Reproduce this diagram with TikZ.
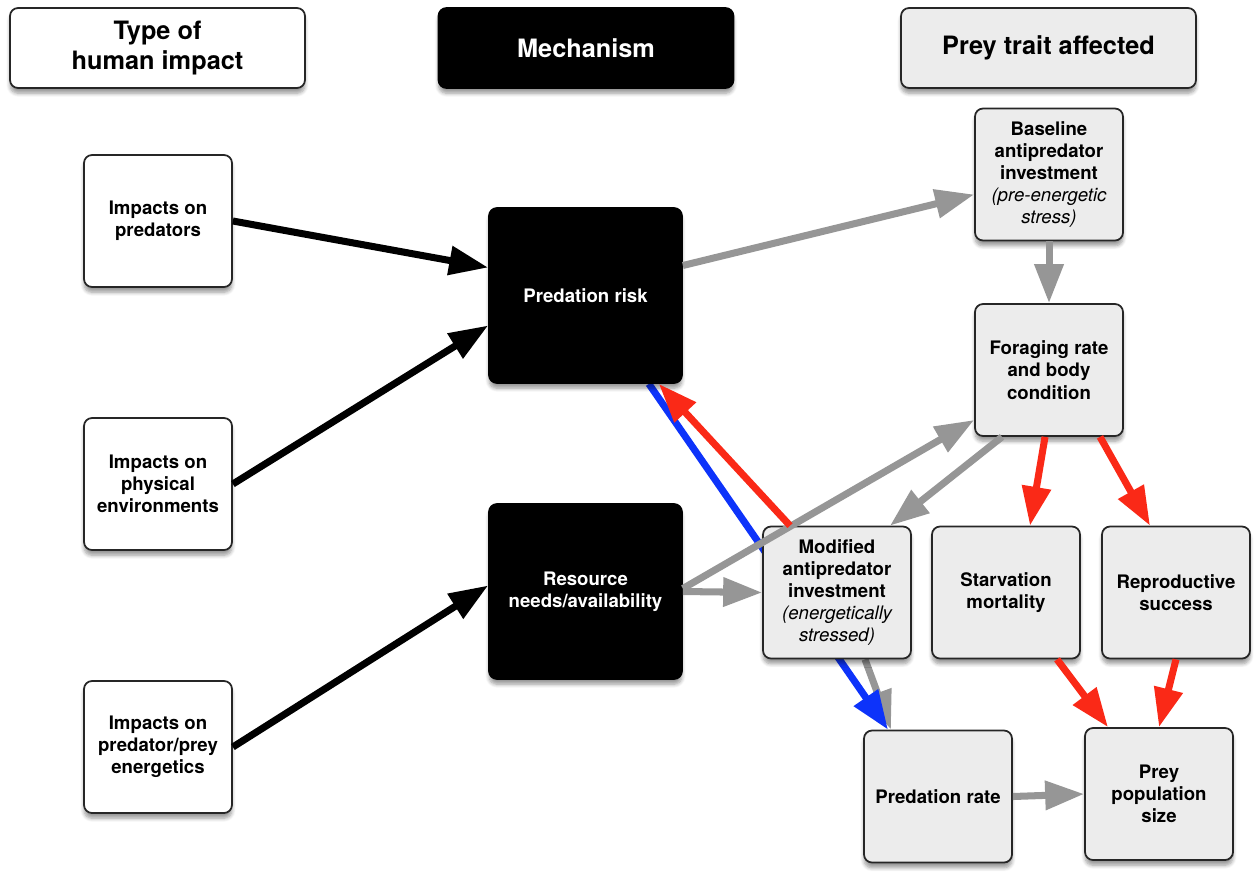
\documentclass[tikz,border=0pt]{standalone}
\usepackage{fontspec}
\setmainfont{TeX Gyre Heros}
\usetikzlibrary{arrows.meta,calc,shadows.blur,backgrounds}
\definecolor{BoxLine}{rgb}{0.15,0.15,0.15}
\definecolor{TraitClr}{rgb}{0.925,0.925,0.925}
\definecolor{GreyArr}{rgb}{0.59,0.59,0.59}
\definecolor{RedArr}{rgb}{0.98,0.16,0.09}
\definecolor{BlueArr}{rgb}{0.05,0.2,0.98}
\newcommand\SubNote[1]{{\mdseries\itshape #1}}

\begin{document}
\begin{tikzpicture}[x=0.02cm,y=-0.02cm,
  box/.style={draw=BoxLine,line width=1pt,rounded corners=0.16cm,align=center,
    minimum width=2.96cm,minimum height=2.64cm,inner sep=2pt,
    font=\fontsize{10.6}{12.6}\selectfont\bfseries,
    blur shadow={shadow xshift=0pt,shadow yshift=-3pt,shadow blur steps=6}},
  impact/.style={box,fill=white},
  trait/.style={box,fill=TraitClr},
  mech/.style={box,fill=black,draw=black,text=white,minimum width=3.86cm,minimum height=3.5cm},
  head/.style={box,minimum width=5.9cm,minimum height=1.6cm,font=\fontsize{14.4}{17.5}\selectfont\bfseries},
  arr/.style={line width=4pt,-{Triangle[length=0.78cm,width=0.56cm]}}]
\useasboundingbox (0,0) rectangle (1256,877);

% column headers
\node[head,fill=white] (hType) at (157.5,48) {Type of\\human impact};
\node[head,fill=black,draw=black,text=white] (hMech) at (586,48) {Mechanism};
\node[head,fill=TraitClr] (hTrait) at (1048.5,48) {Prey trait affected};

% boxes
\node[impact] (pred) at (158,221) {Impacts on\\predators};
\node[impact] (phys) at (158,484) {Impacts on\\physical\\environments};
\node[impact] (ener) at (158,747) {Impacts on\\predator/prey\\energetics};

\node[mech] (risk) at (585.5,295.5) {Predation risk};
\node[mech] (res) at (585.5,591.5) {Resource\\needs/availability};

\node[trait] (base) at (1049,174.5) {Baseline\\antipredator\\investment\\\SubNote{(pre-energetic}\\\SubNote{stress)}};
\node[trait] (forag) at (1049,370) {Foraging rate\\and body\\condition};
\node[trait] (mod) at (837,592.5) {Modified\\antipredator\\investment\\\SubNote{(energetically}\\\SubNote{stressed)}};
\node[trait] (starv) at (1006,592.5) {Starvation\\mortality};
\node[trait] (repro) at (1176,592.5) {Reproductive\\success};
\node[trait] (rate) at (938,796.5) {Predation rate};
\node[trait] (prey) at (1159,794) {Prey\\population\\size};

% links behind the modified box
\begin{scope}[on background layer]
\draw[arr,GreyArr] ($(mod.south)+(28,0)$) -- ($(rate.north)+(-47,0)$);
\draw[arr,BlueArr] ($(risk.south east)+(-34,0)$) -- ($(rate.north)+(-50,0)$);
\end{scope}

\draw[arr,black] (pred.east) -- ($(risk.west)+(0,-28)$);
\draw[arr,black] (phys.east) -- ($(risk.west)+(0,30)$);
\draw[arr,black] (ener.east) -- ($(res.west)+(0,-6)$);

\draw[arr,GreyArr] ($(risk.east)+(0,-30)$) -- ($(base.west)+(0,20)$);
\draw[arr,GreyArr] (base.south) -- (forag.north);
\draw[arr,GreyArr] ($(res.east)+(0,-3)$) -- ($(forag.west)+(0,50)$);
\draw[arr,GreyArr] (res.east) -- (mod.west);
\draw[arr,GreyArr] ($(forag.south)+(-47,0)$) -- ($(mod.north)+(53,0)$);

\draw[arr,RedArr] ($(forag.south)+(-4,0)$) -- ($(starv.north)+(24,0)$);
\draw[arr,RedArr] ($(forag.south)+(51,0)$) -- ($(repro.north)+(-26,0)$);
\draw[arr,RedArr] ($(mod.north)+(-47,0)$) -- ($(risk.south east)+(-24,0)$);
\draw[arr,RedArr] ($(starv.south)+(51,0)$) -- ($(prey.north)+(-51,0)$);
\draw[arr,RedArr] (repro.south) -- (prey.north);

\draw[arr,GreyArr] (rate.east) -- (prey.west);

\end{tikzpicture}
\end{document}
